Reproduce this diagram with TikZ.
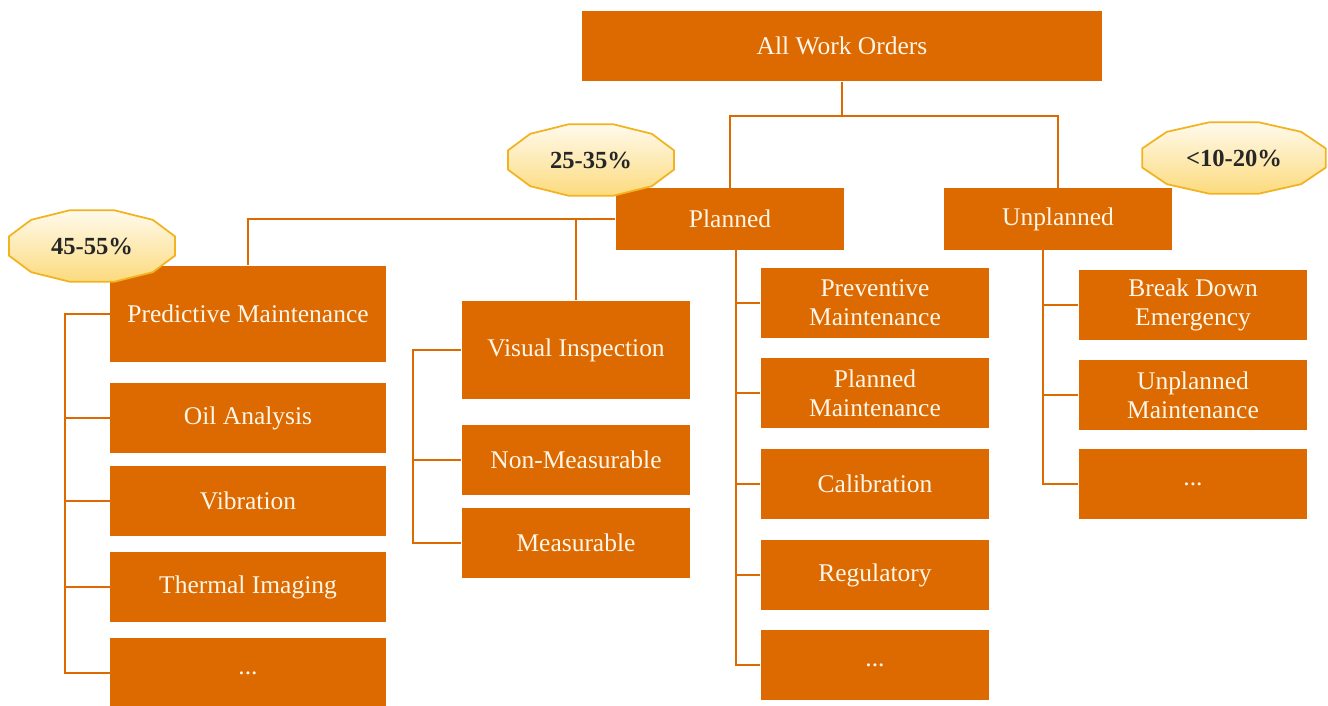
\documentclass[tikz,border=0pt]{standalone}
\usepackage{fontspec}
\setmainfont{Liberation Serif}
\usetikzlibrary{calc}
\definecolor{orders}{HTML}{DC6A00}
\definecolor{badgeedge}{HTML}{F2B320}
\definecolor{badgefill}{HTML}{FCDB7E}
\definecolor{boxtext}{HTML}{FFF6EA}

\begin{document}
\begin{tikzpicture}[
  x=0.02cm, y=-0.02cm,
  wobox/.style={fill=orders,text=boxtext,align=center,inner sep=0pt,font=\fontsize{14.5}{16.5}\selectfont},
  wide/.style={wobox,minimum width=4.58cm,minimum height=1.4cm},
  link/.style={draw=orders,line width=1.2pt},
  badge/.style={draw=badgeedge,line width=1pt,top color=badgefill!15,bottom color=badgefill},
  badgetext/.style={font=\fontsize{14}{16}\selectfont\bfseries,text=black!85},
]
  \useasboundingbox (0,0) rectangle (1328,706);

  % top level
  \node[wobox,minimum width=10.4cm,minimum height=1.42cm] (all) at (842,46) {All Work Orders};
  \node[wobox,minimum width=4.58cm,minimum height=1.24cm] (planned) at (730,219) {Planned};
  \node[wobox,minimum width=4.58cm,minimum height=1.24cm] (unplanned) at (1058,219) {Unplanned};

  \draw[link] (all.south) -- ++(0,34) -| (planned.north);
  \draw[link] (all.south) -- ++(0,34) -| (unplanned.north);

  % predictive branch
  \node[wobox,minimum width=5.52cm,minimum height=1.94cm] (predictive) at (248,314) {Predictive Maintenance};
  \node[wobox,minimum width=5.52cm,minimum height=1.4cm] (oil) at (248,418) {Oil Analysis};
  \node[wobox,minimum width=5.52cm,minimum height=1.4cm] (vibration) at (248,501) {Vibration};
  \node[wobox,minimum width=5.52cm,minimum height=1.4cm] (thermal) at (248,587) {Thermal Imaging};
  \node[wobox,minimum width=5.52cm,minimum height=1.4cm] (predmore) at (248,673) {...};

  \draw[link] (planned.west) -| (predictive.north);
  \foreach \n in {oil,vibration,thermal,predmore}
    \draw[link] (predictive.west) -- ++(-45,0) |- (\n.west);

  % visual inspection branch
  \node[wobox,minimum width=4.58cm,minimum height=1.98cm] (visual) at (576,350) {Visual Inspection};
  \node[wide] (nonmeas) at (576,460) {Non-Measurable};
  \node[wide] (meas) at (576,543) {Measurable};

  \draw[link] (planned.west) -| (visual.north);
  \foreach \n in {nonmeas,meas}
    \draw[link] (visual.west) -- ++(-48,0) |- (\n.west);

  % planned children
  \node[wide] (preventive) at (875,303) {Preventive\\Maintenance};
  \node[wide] (plannedmaint) at (875,393) {Planned\\Maintenance};
  \node[wide] (calibration) at (875,484) {Calibration};
  \node[wide] (regulatory) at (875,575) {Regulatory};
  \node[wide] (plannedmore) at (875,665) {...};

  \foreach \n in {preventive,plannedmaint,calibration,regulatory,plannedmore}
    \draw[link] ([xshift=0.12cm]planned.south) |- (\n.west);

  % unplanned children
  \node[wide] (breakdown) at (1193,305) {Break Down\\Emergency};
  \node[wide] (unplannedmaint) at (1193,395) {Unplanned\\Maintenance};
  \node[wide] (unplannedmore) at (1193,484) {...};

  \foreach \n in {breakdown,unplannedmaint,unplannedmore}
    \draw[link] ([xshift=-0.3cm]unplanned.south) |- (\n.west);

  % share badges
  \foreach \name/\bx/\by/\rx/\txt in {badgepred/92/246/86/45-55\%,badgeplan/591/160/86/25-35\%,badgeunpl/1234/158/95/<10-20\%}{
    \draw[badge] plot[samples at={15,45,...,345}] ({\bx+\rx*cos(\x)},{\by+37*sin(\x)}) -- cycle;
    \node[badgetext] (\name) at (\bx,\by) {\txt};
  }
\end{tikzpicture}
\end{document}
